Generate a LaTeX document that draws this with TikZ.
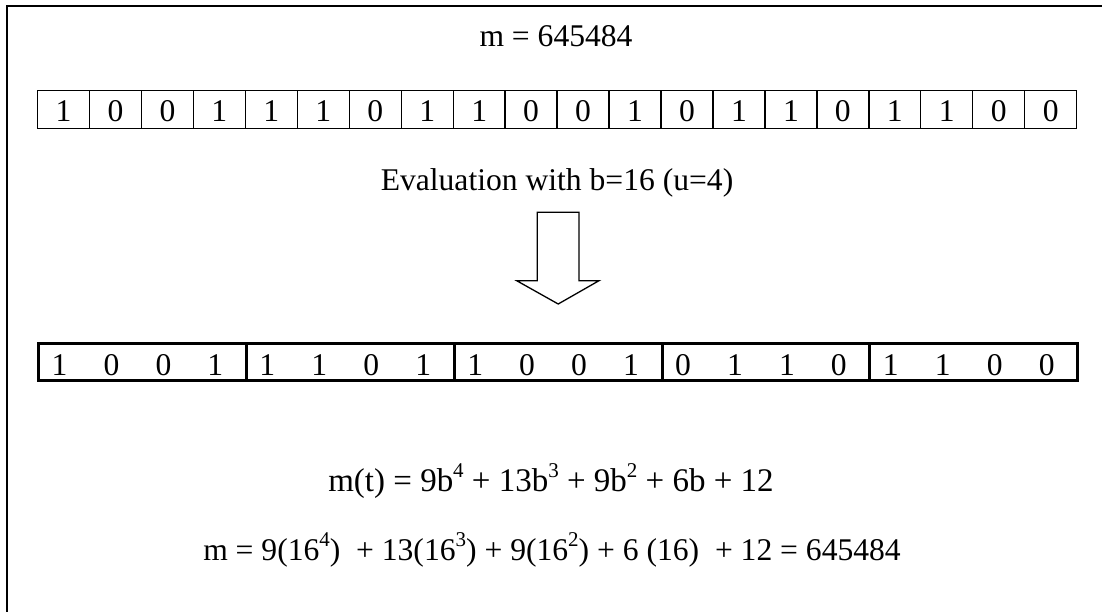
\documentclass[tikz,border=0pt]{standalone}
\usepackage{fontspec}
\setmainfont{Liberation Serif}
\newcommand\supx[1]{\raisebox{0.42em}{\fontsize{21}{21}\selectfont #1}}
\tikzset{
  txt/.style={inner sep=0pt, anchor=base, font=\fontsize{31.6}{38}\selectfont},
  cell/.style={draw, line width=1.3pt, inner sep=0pt, minimum width=51.96pt, minimum height=38pt,
    text height=24.4pt, text depth=0pt, font=\fontsize{31.6}{38}\selectfont},
  grp/.style={draw, line width=3pt, inner sep=0pt, minimum width=207.84pt, minimum height=36.5pt},
  dig/.style={inner sep=0pt, anchor=base, font=\fontsize{31.6}{38}\selectfont},
  bigarrow/.style={draw, line width=1.3pt, fill=white, line join=miter}
}
\begin{document}
\begin{tikzpicture}[x=1pt,y=-1pt]
\clip (0,0) rectangle (1102,611);
\fill[white] (0,0) rectangle (1102,611);
\draw[line width=1.8pt] (6.7,5.7) rectangle (1120,630);
\node[txt] (title) at (556,46.7) {m = 645484};
\foreach \b [count=\i] in {1,0,0,1,1,1,0,1,1,0,0,1,0,1,1,0,1,1,0,0} {
  \node[cell] (c\i) at ({37.5+51.96*(\i-0.5)},109.5) {\b};
}
\node[txt] (eval) at (557,190.5) {Evaluation with b=16 (u=4)};
\foreach \g in {1,...,5} {
  \node[grp] (g\g) at ({38.5+207.84*(\g-0.5)},362.2) {};
}
\foreach \b [count=\i] in {1,0,0,1,1,1,0,1,1,0,0,1,0,1,1,0,1,1,0,0} {
  \node[dig] (d\i) at ({37.5+51.96*(\i-0.5)-4},375) {\b};
}
\draw[bigarrow] (537.3,212.3) -- (579,212.3) -- (579,280.7) -- (599,280.7) -- (558.2,304) -- (516.7,280.7) -- (537.3,280.7) -- cycle;
\node[txt, font=\fontsize{33}{40}\selectfont] (f1) at (551,491.5) {m(t) = 9b\supx{4} + 13b\supx{3} + 9b\supx{2} + 6b + 12};
\node[txt] (f2) at (552,560) {m = 9(16\supx{4})\ \ + 13(16\supx{3}) + 9(16\supx{2}) + 6 (16)\ \ + 12 = 645484};
\end{tikzpicture}
\end{document}
